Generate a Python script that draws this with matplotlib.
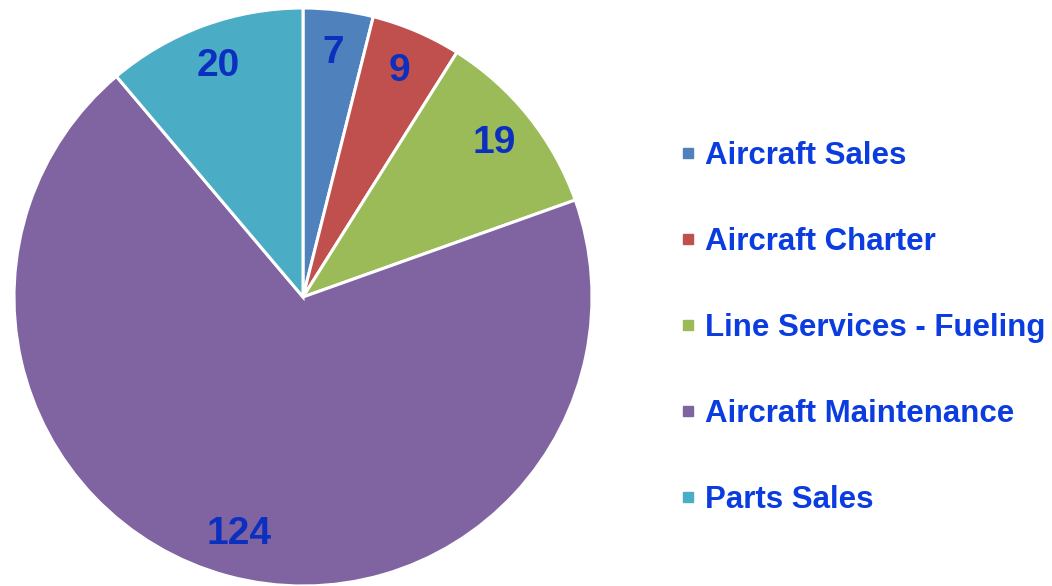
import matplotlib.pyplot as plt
from matplotlib.lines import Line2D

categories = ['Aircraft Sales', 'Aircraft Charter', 'Line Services - Fueling',
              'Aircraft Maintenance', 'Parts Sales']
values = [7, 9, 19, 124, 20]
colors = ['#4F81BD', '#C0504D', '#9BBB59', '#8064A2', '#4BACC6']

plt.rcParams['font.family'] = ['Liberation Sans', 'DejaVu Sans']

fig = plt.figure(figsize=(10.52, 5.86), dpi=100)
# pie centre ~ (303, 297) px, radius ~ 289 px
ax = fig.add_axes([14 / 1052, 0.0, 578 / 1052, 578 / 586])

wedges, texts = ax.pie(values, colors=colors, startangle=90, counterclock=False,
                       labels=[str(v) for v in values], labeldistance=0.85,
                       wedgeprops=dict(edgecolor='white', linewidth=2.2),
                       textprops=dict(fontsize=28, fontweight='bold', color='#0B30C0',
                                      ha='center', va='center'))
ax.set_xlim(-1, 1)
ax.set_ylim(-1, 1)
ax.set_aspect('equal')

handles = [Line2D([], [], marker='s', linestyle='none', markersize=7.5,
                  markerfacecolor=c, markeredgecolor=c) for c in colors]
fig.legend(handles, categories, loc='center left', bbox_to_anchor=(680 / 1052, 1 - 328 / 586),
           frameon=False, labelspacing=1.79, handlelength=0.5, handletextpad=0.3,
           borderpad=0, borderaxespad=0,
           prop=dict(size=22.5, weight='bold'), labelcolor='#0A3CE0')

fig.savefig('out.png', dpi=100)
